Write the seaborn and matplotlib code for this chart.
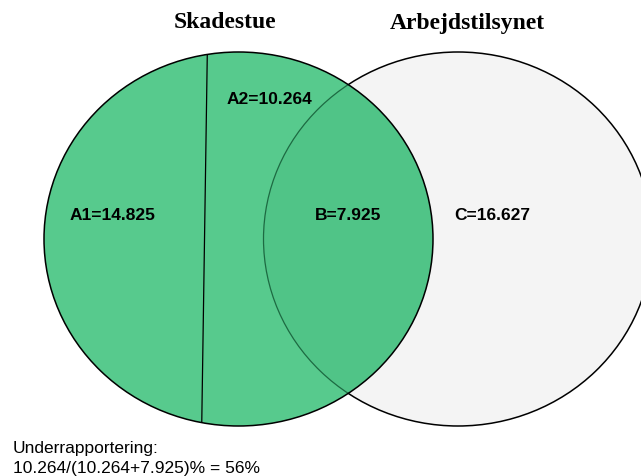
import matplotlib
matplotlib.use("Agg")
import matplotlib.pyplot as plt
import seaborn as sns
from matplotlib.patches import Ellipse

# =========================================
# DATA
# =========================================

set_names = ["Skadestue", "Arbejdstilsynet"]
region_names = ["A1", "A2", "B", "C"]
region_values = [14.825, 10.264, 7.925, 16.627]

# =========================================
# STYLE
# =========================================

sns.set_theme(style="white")
plt.rcParams["font.family"] = ["Liberation Sans", "DejaVu Sans"]
plt.rcParams["text.color"] = "black"

green = "#57ca8d"
green_overlap = "#50c487"
grey = "#f4f4f4"

fig = plt.figure(figsize=(6.41, 4.76), dpi=100)
ax = fig.add_axes([0, 0, 1, 1])
ax.set_xlim(0, 641)
ax.set_ylim(476, 0)
ax.axis("off")

# circle geometry (pixel space)
left_c, right_c = (238.5, 239), (458, 239)
w, h = 389, 374

right = Ellipse(right_c, w, h, facecolor=grey, edgecolor="black", lw=1.1, zorder=1)
ax.add_patch(right)

left = Ellipse(left_c, w, h, facecolor=green, edgecolor="none", zorder=2)
ax.add_patch(left)

overlap = Ellipse(right_c, w, h, facecolor=green_overlap, edgecolor="#1d6a42",
                  lw=0.9, zorder=3)
ax.add_patch(overlap)
overlap.set_clip_path(left)

left_edge = Ellipse(left_c, w, h, facecolor="none", edgecolor="black", lw=1.1, zorder=4)
ax.add_patch(left_edge)

# divider between A1 and A2
div, = ax.plot([207.5, 201.5], [40, 440], color="black", lw=0.9, zorder=4)
div.set_clip_path(left)

# =========================================
# TEXT
# =========================================

ax.text(225, 23, set_names[0], ha="center", va="center", fontsize=17,
        fontweight="bold", color="black", family=["Liberation Serif", "DejaVu Serif"])
ax.text(467.5, 23, set_names[1], ha="center", va="center", fontsize=17,
        fontweight="bold", color="black", family=["Liberation Serif", "DejaVu Serif"])

label_pos = [(112, 215), (269, 100), (348, 215), (492, 215)]
for name, val, (x, y) in zip(region_names, region_values, label_pos):
    ax.text(x, y, f"{name}={val:.3f}", ha="center", va="center",
            fontsize=12.5, fontweight="bold", color="black", zorder=5)

a2, b = region_values[1], region_values[2]
pct = round(100 * a2 / (a2 + b))
ax.text(13, 453, "Underrapportering:", ha="left", va="baseline", fontsize=12.5,
        color="black")
ax.text(13, 473, f"{a2:.3f}/({a2:.3f}+{b:.3f})% = {pct}%", ha="left",
        va="baseline", fontsize=12.5, color="black")

fig.savefig("out.png", dpi=100)
